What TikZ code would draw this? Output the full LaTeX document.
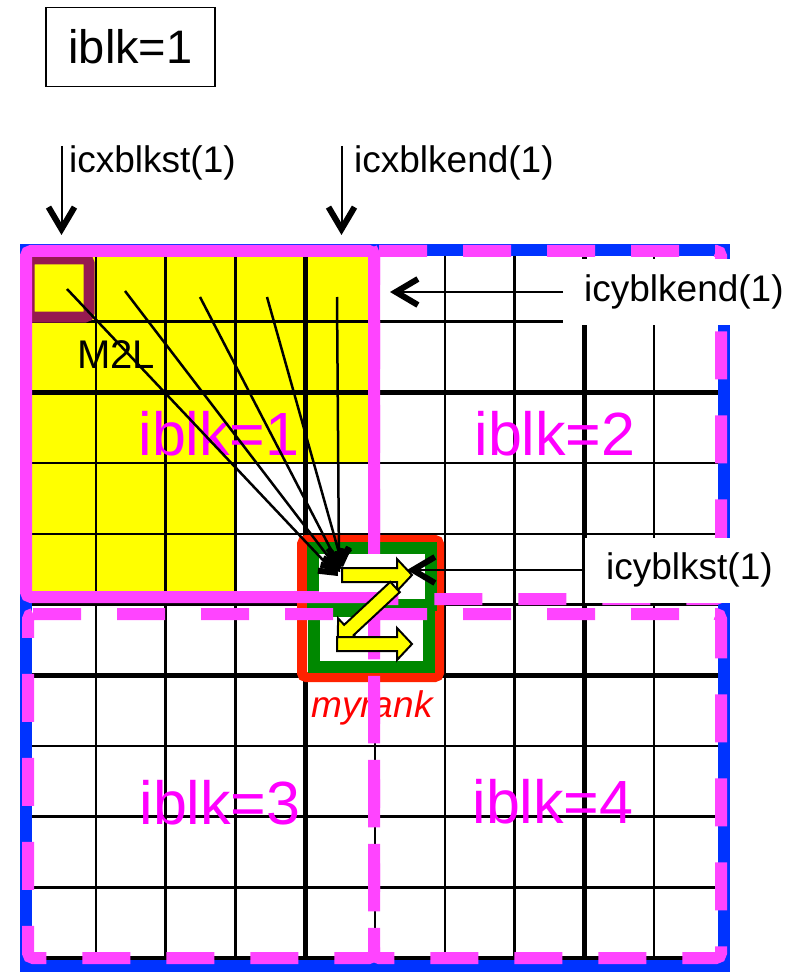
\documentclass[tikz,border=0pt]{standalone}
\usepackage{fontspec}
\setmainfont{Liberation Sans}
\usetikzlibrary{arrows.meta}

\definecolor{blkpink}{RGB}{255,68,255}
\definecolor{lblmagenta}{RGB}{255,0,255}
\definecolor{rankred}{RGB}{255,34,0}
\definecolor{rankgreen}{RGB}{0,136,0}
\definecolor{edgeblue}{RGB}{0,51,255}
\definecolor{cellmaroon}{RGB}{150,26,80}
\definecolor{cellyellow}{RGB}{255,255,0}

\begin{document}
\begin{tikzpicture}[
		x=1pt, y=-1pt,
		grid thin/.style={line width=2.5pt},
		grid bold/.style={line width=5pt},
		blk solid/.style={draw=blkpink, line width=12pt, rounded corners=5pt},
		blk dashed/.style={blk solid, dash pattern=on 48pt off 36pt},
		blk label/.style={text=lblmagenta, font=\fontsize{61}{61}\selectfont, inner sep=0pt, anchor=base},
		idx label/.style={font=\fontsize{37}{40}\selectfont, inner sep=0pt},
		idx box/.style={idx label, fill=white, anchor=west, inner xsep=21pt, minimum height=65pt},
		idx arrow/.style={line width=2pt, -{Straight Barb[length=22pt, width=26pt, line width=6pt 0]}},
		m2l arrow/.style={line width=2.5pt, -{Straight Barb[length=13pt, width=22pt, line width=6pt 0]}},
		zig arrow/.style={fill=cellyellow, draw=black, line width=2pt},
		pics/zigzag/.style={code={
			\filldraw[zig arrow] (0,-7) -- (#1-15,-7) -- (#1-15,-16) -- (#1,0)
				-- (#1-15,16) -- (#1-15,7) -- (0,7) -- cycle;
		}}
		]
	\useasboundingbox (0,0) rectangle (795,973);
	
	\node[draw, line width=1.5pt, minimum width=169pt, minimum height=79pt,
		font=\fontsize{47}{47}\selectfont] (title) at (130.5,47) {iblk=1};
	
	% cells
	\begin{scope}[shift={(26,251)}, x=69.8pt, y=-70.7pt]
		\fill[cellyellow] (0,0) rectangle (5,3);
		\fill[cellyellow] (0,3) rectangle (3,5);
		\foreach \i in {0,...,10} {
			\draw[grid thin] (\i,0) -- (\i,10);
			\draw[grid thin] (0,\i) -- (10,\i);
		}
		\foreach \i/\j in {0/2,4/6,8/10} {
			\draw[grid bold] (\i,0) -- (\i,10);
			\draw[grid bold] (0,\j) -- (10,\j);
		}
	\end{scope}
	
	\draw[cellmaroon, line width=11pt, rounded corners=4pt] (29,259) rectangle (89,317);
	
	% myrank
	\draw[rankred, fill=white, line width=10pt, rounded corners=4pt] (302,540) rectangle (439,677);
	\draw[rankgreen, fill=white, line width=12pt] (313,548) rectangle (431,605);
	\draw[rankgreen, fill=white, line width=12pt] (314,611) rectangle (429,667);
	\node[idx label, text=red, font=\fontsize{37}{40}\selectfont\itshape, anchor=base] (rank) at (372,717) {myrank};
	
	% blocks
	\draw[edgeblue, line width=12pt] (26,250) rectangle (724,966);
	\draw[blk solid] (26,251) -- (374,251) -- (374,597) -- (26,597) -- cycle;
	\draw[blk dashed] (374,251) -- (721,251) -- (721,599) -- (374,599) -- cycle;
	\draw[blk dashed] (28,614) -- (374,614) -- (374,958) -- (28,958) -- cycle;
	\draw[blk dashed] (374,614) -- (721,614) -- (721,958) -- (374,958) -- cycle;
	\fill[white] (319,554) rectangle (425,592);
	
	\node[blk label] (blk1) at (219,455) {iblk=1};
	\node[blk label] (blk2) at (555,455) {iblk=2};
	\node[blk label] (blk3) at (220,824) {iblk=3};
	\node[blk label] (blk4) at (553,823) {iblk=4};
	\node[idx label, font=\fontsize{40}{40}\selectfont, anchor=base west] (m2l) at (77,368) {M2L};
	
	\foreach \sx/\sy/\ex/\ey [count=\k] in {67/289/338/576, 125/291/340/572, 200/297/341/569, 267/297/343/567, 337/297/339/566} {
		\coordinate (m2ls\k) at (\sx,\sy);
		\coordinate (m2le\k) at (\ex,\ey);
		\draw[m2l arrow] (m2ls\k) -- (m2le\k);
	}
	
	\pic at (342,575) {zigzag=70};
	\pic[rotate=223] at (395,587) {zigzag=78};
	\pic at (337,644) {zigzag=75};
	
	% index labels
	\node[idx label, anchor=base west] (xst) at (69,173) {icxblkst(1)};
	\node[idx label, anchor=base west] (xend) at (354,173) {icxblkend(1)};
	\coordinate (xsttip) at (61.5,235);
	\coordinate (xendtip) at (341.5,235);
	\draw[idx arrow] ([xshift=-7.5pt]xst.north west) -- (xsttip);
	\draw[idx arrow] ([xshift=-12.5pt]xend.north west) -- (xendtip);
	
	\node[idx box] (yend) at (563,292) {icyblkend(1)};
	\node[idx box] (yst) at (585,570) {icyblkst(1)};
	\coordinate (yendtip) at (390,292);
	\coordinate (ysttip) at (407,570);
	\draw[idx arrow] (yend.west) -- (yendtip);
	\draw[idx arrow] (yst.west) -- (ysttip);
\end{tikzpicture}
\end{document}
